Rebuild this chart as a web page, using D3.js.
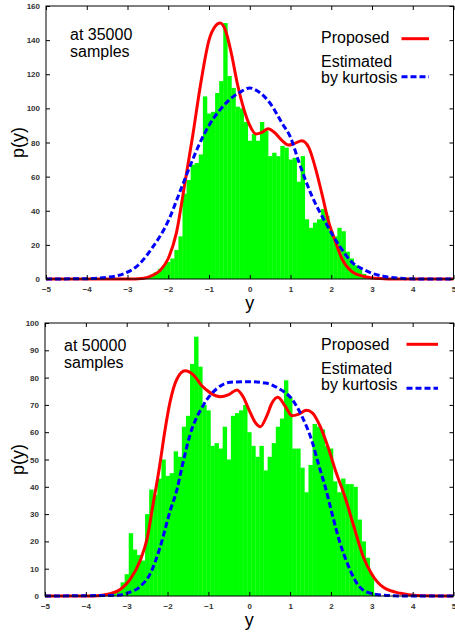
<!DOCTYPE html>
<html>
<head>
<meta charset="utf-8">
<script src="https://cdn.jsdelivr.net/npm/d3@7"></script>
<style>
  html, body { margin: 0; padding: 0; background: #fff; }
  svg { display: block; }
  text { font-family: "Liberation Sans", Arial, sans-serif; }
</style>
</head>
<body>
<div id="chart"></div>
<script>
// histogram bins: [bin centre, count]
const hist35 = [
  [-2.5, 1], [-2.4, 2], [-2.3, 4], [-2.2, 6], [-2.1, 8], [-2.0, 10], [-1.9, 12], [-1.8, 17],
  [-1.7, 25], [-1.6, 50], [-1.5, 58], [-1.4, 67], [-1.3, 68], [-1.2, 73], [-1.1, 107], [-1.0, 97],
  [-0.9, 98], [-0.8, 109], [-0.7, 116], [-0.6, 150], [-0.5, 119], [-0.4, 112], [-0.3, 101], [-0.2, 100],
  [-0.1, 92], [0.0, 81], [0.1, 85], [0.2, 81], [0.3, 92], [0.4, 87], [0.5, 72], [0.6, 74],
  [0.7, 72], [0.8, 78], [0.9, 77], [1.0, 70], [1.1, 71], [1.2, 57], [1.3, 72], [1.4, 35],
  [1.5, 30], [1.6, 33], [1.7, 35], [1.8, 41], [1.9, 37], [2.0, 28], [2.1, 25], [2.2, 30],
  [2.3, 28], [2.4, 16], [2.5, 12], [2.6, 8], [2.7, 6], [2.8, 3]
];
const hist50 = [
  [-3.3, 1], [-3.2, 2], [-3.1, 5], [-3.0, 8], [-2.9, 23], [-2.8, 17], [-2.7, 15], [-2.6, 13],
  [-2.5, 30], [-2.4, 39], [-2.3, 37], [-2.2, 43], [-2.1, 50], [-2.0, 44], [-1.9, 45], [-1.8, 53],
  [-1.7, 51], [-1.6, 62], [-1.5, 66], [-1.4, 85], [-1.3, 95], [-1.2, 84], [-1.1, 70], [-1.0, 68],
  [-0.9, 55], [-0.8, 56], [-0.7, 54], [-0.6, 62], [-0.5, 50], [-0.4, 66], [-0.3, 67], [-0.2, 68],
  [-0.1, 70], [0.0, 60], [0.1, 55], [0.2, 51], [0.3, 55], [0.4, 46], [0.5, 51], [0.6, 56],
  [0.7, 62], [0.8, 65], [0.9, 79], [1.0, 73], [1.1, 54], [1.2, 54], [1.3, 47], [1.4, 38],
  [1.5, 48], [1.6, 63], [1.7, 62], [1.8, 61], [1.9, 55], [2.0, 54], [2.1, 42], [2.2, 38],
  [2.3, 43], [2.4, 41], [2.5, 41], [2.6, 40], [2.7, 28], [2.8, 20], [2.9, 14], [3.0, 8], [3.1, 1]
];

// curves: [y, p(y)]
const proposed35 = [
  [-5, 0], [-3, 0], [-2.6, 0.5], [-2.4, 2], [-2.2, 5], [-2.0, 12], [-1.8, 27], [-1.6, 55],
  [-1.4, 84], [-1.2, 115], [-1.0, 140], [-0.85, 148], [-0.73, 150], [-0.6, 146], [-0.45, 132],
  [-0.3, 114], [-0.15, 100], [0, 90], [0.15, 85], [0.3, 86], [0.45, 88], [0.6, 86], [0.8, 81],
  [0.95, 78.5], [1.1, 79.5], [1.28, 81], [1.45, 77], [1.6, 66], [1.77, 50], [1.93, 34], [2.1, 22],
  [2.26, 12], [2.5, 4.5], [2.8, 1.5], [3.2, 0.3], [3.6, 0], [5, 0]
];
const kurtosis35 = [
  [-5, 0], [-4, 0.2], [-3.5, 1], [-3.0, 4], [-2.7, 9], [-2.4, 18], [-2.0, 34], [-1.7, 52],
  [-1.4, 70], [-1.2, 81], [-1.0, 90], [-0.7, 100], [-0.4, 107], [-0.2, 110], [0, 112], [0.2, 110],
  [0.5, 103], [0.8, 91], [1.0, 83], [1.2, 69], [1.5, 50], [1.85, 33.5], [2.2, 19.5], [2.5, 10],
  [2.8, 5.5], [3.0, 3.4], [3.3, 1.5], [3.7, 0.4], [4.2, 0], [5, 0]
];
const proposed50 = [
  [-5, 0], [-3.8, 0], [-3.4, 0.8], [-3.15, 2.5], [-2.92, 6], [-2.67, 13], [-2.5, 21], [-2.35, 34],
  [-2.2, 47], [-2.06, 61], [-1.94, 71], [-1.77, 79.5], [-1.57, 82.5], [-1.37, 81], [-1.16, 77],
  [-0.96, 74.5], [-0.71, 73], [-0.5, 73.8], [-0.3, 75.5], [-0.15, 73], [0, 68], [0.15, 63.5],
  [0.27, 62], [0.43, 66], [0.55, 70.5], [0.7, 72.8], [0.88, 69.5], [1.05, 66], [1.2, 66.5],
  [1.4, 68], [1.55, 67], [1.74, 62], [1.94, 54], [2.11, 46], [2.35, 36], [2.55, 26], [2.8, 14],
  [3.0, 8], [3.3, 3], [3.7, 1], [4.1, 0.2], [5, 0]
];
const kurtosis50 = [
  [-5, 0], [-3.2, 0.3], [-3.0, 1], [-2.67, 3.5], [-2.43, 8], [-2.18, 18], [-1.94, 31], [-1.77, 39],
  [-1.65, 47], [-1.45, 59], [-1.12, 70], [-0.79, 76], [-0.47, 78.3], [0, 78.5], [0.4, 78],
  [0.72, 76], [1.05, 72], [1.3, 65.5], [1.54, 56.5], [1.7, 48], [1.86, 40], [2.03, 30], [2.2, 20.5],
  [2.4, 12], [2.6, 5.5], [2.9, 1.3], [3.3, 0.3], [3.8, 0], [5, 0]
];

const xTicks = [-5, -4, -3, -2, -1, 0, 1, 2, 3, 4, 5];
const yTicks35 = [0, 20, 40, 60, 80, 100, 120, 140, 160];
const yTicks50 = [0, 10, 20, 30, 40, 50, 60, 70, 80, 90, 100];
const binWidth = 0.1;

const width = 455;
const height = 632;

const svg = d3.select('#chart').append('svg')
  .attr('width', width)
  .attr('height', height);

const panels = [
  {
    hist: hist35, proposed: proposed35, kurtosis: kurtosis35,
    yMax: 160, yTicks: yTicks35, note: ['at 35000', 'samples'],
    left: 46, right: 453.5, top: 6, bottom: 279,
    noteX: 70, noteY: 40, legX: 321, legY: 43, legLineX: [401.5, 429], legLineY: [38.7, 76.7],
    xLabelY: 309, yLabelX: 24
  },
  {
    hist: hist50, proposed: proposed50, kurtosis: kurtosis50,
    yMax: 100, yTicks: yTicks50, note: ['at 50000', 'samples'],
    left: 45, right: 453.5, top: 323, bottom: 596,
    noteX: 64, noteY: 351, legX: 321, legY: 350, legLineX: [406.5, 438], legLineY: [344.3, 388.3],
    xLabelY: 626, yLabelX: 24
  }
];

panels.forEach(p => {
  const x = d3.scaleLinear().domain([-5, 5]).range([p.left, p.right]);
  const y = d3.scaleLinear().domain([0, p.yMax]).range([p.bottom, p.top]);
  const g = svg.append('g');

  // histogram
  g.append('g')
    .selectAll('rect')
    .data(p.hist)
    .join('rect')
    .attr('x', d => x(d[0] - binWidth / 2))
    .attr('width', d => x(d[0] + binWidth / 2) - x(d[0] - binWidth / 2) + 0.3)
    .attr('y', d => y(d[1]))
    .attr('height', d => y(0) - y(d[1]))
    .attr('fill', '#00ff00');

  const line = d3.line()
    .x(d => x(d[0]))
    .y(d => y(d[1]))
    .curve(d3.curveMonotoneX);

  g.append('path')
    .attr('d', line(p.proposed))
    .attr('fill', 'none')
    .attr('stroke', '#ff0000')
    .attr('stroke-width', 3)
    .attr('stroke-linejoin', 'round');

  g.append('path')
    .attr('d', line(p.kurtosis))
    .attr('fill', 'none')
    .attr('stroke', '#0000ff')
    .attr('stroke-width', 3)
    .attr('stroke-dasharray', '6,3');

  // axes, ticks pointing inwards on all four sides
  const axisStyle = sel => {
    sel.select('.domain').remove();
    sel.selectAll('.tick line').attr('stroke', '#000');
    sel.selectAll('.tick text')
      .attr('fill', '#333')
      .style('font-size', '8px')
      .style('font-weight', 'bold')
      .style('font-family', '"Liberation Sans", Arial, sans-serif');
  };

  g.append('g')
    .attr('transform', `translate(0,${p.bottom})`)
    .call(d3.axisBottom(x).tickValues(xTicks).tickSize(-4).tickPadding(7))
    .call(axisStyle);
  g.append('g')
    .attr('transform', `translate(0,${p.top})`)
    .call(d3.axisTop(x).tickValues(xTicks).tickSize(-4).tickFormat(''))
    .call(axisStyle);
  g.append('g')
    .attr('transform', `translate(${p.left},0)`)
    .call(d3.axisLeft(y).tickValues(p.yTicks).tickSize(-4).tickPadding(6))
    .call(axisStyle);
  g.append('g')
    .attr('transform', `translate(${p.right},0)`)
    .call(d3.axisRight(y).tickValues(p.yTicks).tickSize(-4).tickFormat(''))
    .call(axisStyle);

  g.append('rect')
    .attr('x', p.left)
    .attr('y', p.top)
    .attr('width', p.right - p.left)
    .attr('height', p.bottom - p.top)
    .attr('fill', 'none')
    .attr('stroke', '#000')
    .attr('stroke-width', 1);

  // axis titles
  g.append('text')
    .attr('x', x(0))
    .attr('y', p.xLabelY)
    .attr('text-anchor', 'middle')
    .style('font-size', '18px')
    .text('y');
  g.append('text')
    .attr('transform', `translate(${p.yLabelX},${(p.top + p.bottom) / 2}) rotate(-90)`)
    .attr('text-anchor', 'middle')
    .style('font-size', '18px')
    .text('p(y)');

  // sample count note
  g.append('text')
    .attr('x', p.noteX)
    .attr('y', p.noteY)
    .style('font-size', '16px')
    .text(p.note[0]);
  g.append('text')
    .attr('x', p.noteX)
    .attr('y', p.noteY + 17)
    .style('font-size', '16px')
    .text(p.note[1]);

  // legend
  g.append('text')
    .attr('x', p.legX).attr('y', p.legY)
    .style('font-size', '16px')
    .text('Proposed');
  g.append('text')
    .attr('x', p.legX).attr('y', p.legY + 24)
    .style('font-size', '16px')
    .text('Estimated');
  g.append('text')
    .attr('x', p.legX).attr('y', p.legY + 40)
    .style('font-size', '16px')
    .text('by kurtosis');
  g.append('line')
    .attr('x1', p.legLineX[0]).attr('x2', p.legLineX[1])
    .attr('y1', p.legLineY[0]).attr('y2', p.legLineY[0])
    .attr('stroke', '#ff0000').attr('stroke-width', 3);
  g.append('line')
    .attr('x1', p.legLineX[0]).attr('x2', p.legLineX[1])
    .attr('y1', p.legLineY[1]).attr('y2', p.legLineY[1])
    .attr('stroke', '#0000ff').attr('stroke-width', 3)
    .attr('stroke-dasharray', '6,3');
});
</script>
</body>
</html>
